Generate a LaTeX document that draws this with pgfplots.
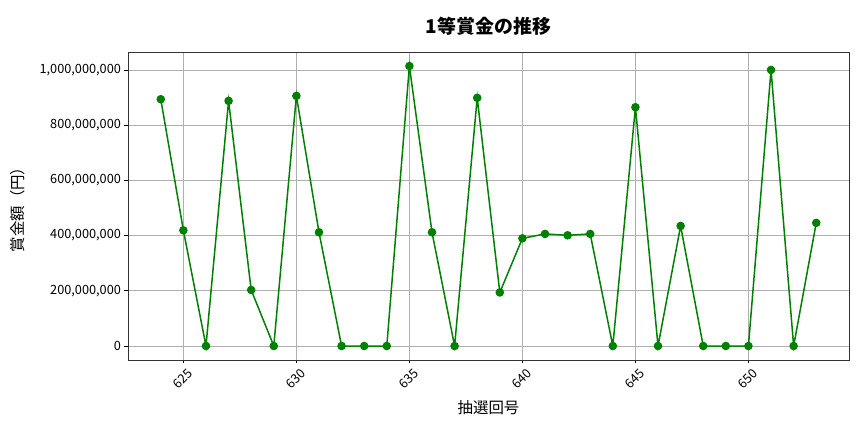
\documentclass[border=0pt]{standalone}
\usepackage{pgfplots}
\pgfplotsset{compat=1.18}
\usepackage{fontspec}
\setmainfont{Noto Sans CJK JP}
\definecolor{linegreen}{RGB}{0,128,0}
\definecolor{gridgray}{RGB}{176,176,176}
\begin{document}
\begin{tikzpicture}
\useasboundingbox (0,0) rectangle (864bp,432bp);
\begin{axis}[
  at={(128bp,72bp)}, anchor=south west,
  scale only axis,
  width=721bp, height=308bp,
  xmin=622.55, xmax=654.45,
  ymin=-50.7e6, ymax=1065e6,
  xtick={625,630,...,650},
  ytick={0,200000000,400000000,600000000,800000000,1000000000},
  scaled y ticks=false,
  yticklabel style={/pgf/number format/fixed, /pgf/number format/precision=0, /pgf/number format/1000 sep={,}},
  /pgf/number format/assume math mode=true,
  tick label style={font=\fontsize{12.8}{15}\selectfont},
  xticklabel style={/pgf/number format/1000 sep={}, xshift=-1bp, yshift=-15bp, rotate=45, anchor=center},
  tick pos=left,
  tick align=outside,
  major tick length=3.5bp,
  tick style={black, line width=0.8bp},
  axis line style={black!80, line width=0.8bp},
  grid=major,
  major grid style={gridgray, line width=0.8bp},
  title={\bfseries 1等賞金の推移},
  title style={at={(axis description cs:0.5,1)}, anchor=center, yshift=20bp, font=\fontsize{19}{22}\selectfont},
  xlabel={抽選回号},
  xlabel style={at={(axis description cs:0.5,0)}, anchor=center, yshift=-48bp, font=\fontsize{15.5}{18}\selectfont},
  ylabel={賞金額（円）},
  ylabel style={at={(axis description cs:-0.1526,0.5)}, anchor=center, rotate=0, font=\fontsize{15.5}{18}\selectfont},
]
\addplot[color=linegreen, line width=1.5bp, mark=*, mark size=3.5bp, mark options={fill=linegreen, draw=linegreen}] coordinates {
(624,894000000) (625,419000000) (626,0) (627,888000000) (628,203000000)
(629,0) (630,906000000) (631,412000000) (632,0) (633,0)
(634,0) (635,1014000000) (636,412000000) (637,0) (638,899000000)
(639,194000000) (640,390000000) (641,406000000) (642,401000000) (643,406000000)
(644,0) (645,865000000) (646,0) (647,435000000) (648,0)
(649,0) (650,0) (651,1000000000) (652,0) (653,446000000)
};
\end{axis}
\end{tikzpicture}
\end{document}
